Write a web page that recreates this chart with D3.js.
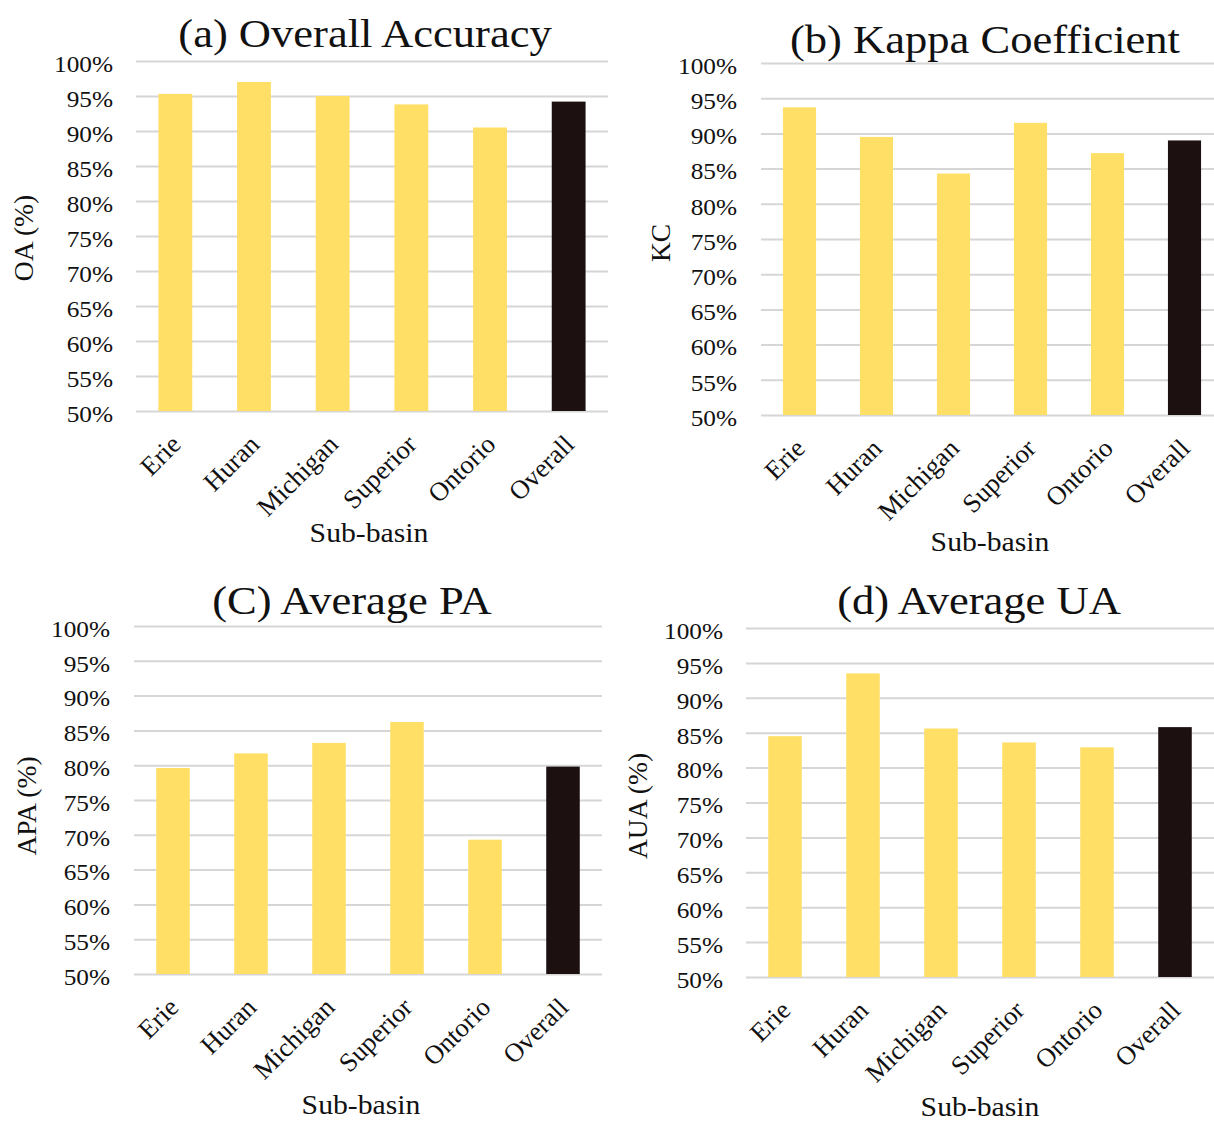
<!DOCTYPE html>
<html>
<head>
<meta charset="utf-8">
<script src="https://cdn.jsdelivr.net/npm/d3@7"></script>
<style>
  body { margin: 0; background: #fff; }
  text { font-family: "Liberation Serif", "Times New Roman", serif; fill: #111; }
</style>
</head>
<body>
<div id="chart-Div"></div>
<script>

// sub-basins and the four accuracy measures (fractions)
const categories = ['Erie', 'Huran', 'Michigan', 'Superior', 'Ontorio', 'Overall'];
const oaValues  = [0.953, 0.970, 0.950, 0.938, 0.905, 0.942];
const kcValues  = [0.937, 0.895, 0.843, 0.915, 0.872, 0.890];
const apaValues = [0.796, 0.817, 0.832, 0.862, 0.693, 0.798];
const auaValues = [0.845, 0.935, 0.856, 0.836, 0.829, 0.858];
const yTicks = [0.50, 0.55, 0.60, 0.65, 0.70, 0.75, 0.80, 0.85, 0.90, 0.95, 1.00];
const panelTitles = ['(a) Overall Accuracy', '(b) Kappa Coefficient', '(C) Average PA', '(d) Average UA'];
const yTitles = ['OA (%)', 'KC', 'APA (%)', 'AUA (%)'];
const xTitle = 'Sub-basin';

let width = 1214, height = 1124;
let svg = d3.select('#chart-Div')
    .append('svg')
    .attr('width', width)
    .attr('height', height);

// where each panel sits on the page
let panels = [
    {values: oaValues,  x0: 136, x1: 608,  yTop: 61,  yBot: 411, tickRight: 113, titleX: 365, titleY: 47,  yLabX: 33,  yLabY: 238, subX: 369, subY: 542},
    {values: kcValues,  x0: 761, x1: 1223, yTop: 63,  yBot: 415, tickRight: 737, titleX: 985, titleY: 53,  yLabX: 670, yLabY: 243, subX: 990, subY: 551},
    {values: apaValues, x0: 134, x1: 602,  yTop: 626, yBot: 974, tickRight: 110, titleX: 352, titleY: 614, yLabX: 36,  yLabY: 806, subX: 361, subY: 1114},
    {values: auaValues, x0: 746, x1: 1214, yTop: 628, yBot: 977, tickRight: 723, titleX: 979, titleY: 614, yLabX: 647, yLabY: 806, subX: 980, subY: 1116}
];

const stretch = 1.1;

panels.forEach((p, i) => drawPanel(p, i));

function drawPanel(p, i) {
    let g = svg.append('g');

    let xScale = d3.scaleBand()
        .domain(categories)
        .range([p.x0, p.x1])
        .paddingInner(0.57)
        .paddingOuter(0.285);
    let yScale = d3.scaleLinear()
        .domain([0.5, 1.0])
        .range([p.yBot, p.yTop]);

    // gridlines
    let grid = g.append('g')
        .attr('transform', `translate(${p.x0},0)`)
        .call(d3.axisLeft(yScale).tickValues(yTicks).tickSize(-(p.x1 - p.x0)).tickFormat(''));
    grid.select('.domain').remove();
    grid.selectAll('line')
        .attr('stroke', '#d6d6d6')
        .attr('stroke-width', 2);

    // tick labels
    let yAxis = g.append('g')
        .attr('transform', `translate(${p.tickRight},0)`)
        .call(d3.axisLeft(yScale).tickValues(yTicks).tickSize(0).tickPadding(0).tickFormat(d3.format('.0%')));
    yAxis.select('.domain').remove();
    yAxis.selectAll('text')
        .attr('x', 0)
        .attr('dy', '0.45em')
        .attr('transform', `scale(${stretch},1)`)
        .style('font-size', '23px')
        .style('font-family', '"Liberation Serif", serif')
        .attr('fill', '#111');

    // bars
    g.selectAll('rect')
        .data(p.values)
        .enter()
        .append('rect')
        .attr('x', (d, j) => xScale(categories[j]))
        .attr('width', xScale.bandwidth())
        .attr('y', d => yScale(d))
        .attr('height', d => yScale(0.5) - yScale(d))
        .attr('fill', (d, j) => categories[j] === 'Overall' ? '#1d1011' : '#ffdf66');

    // rotated category labels
    g.selectAll('.xlab')
        .data(categories)
        .enter()
        .append('text')
        .attr('class', 'xlab')
        .attr('transform', d => `translate(${xScale(d) + xScale.bandwidth() / 2 + 7},${p.yBot + 35}) rotate(-45)`)
        .attr('text-anchor', 'end')
        .style('font-size', '26.5px')
        .text(d => d);

    // panel title
    g.append('text')
        .attr('transform', `translate(${p.titleX},${p.titleY}) scale(${stretch},1)`)
        .attr('text-anchor', 'middle')
        .style('font-size', '40.5px')
        .text(panelTitles[i]);

    // y axis title
    g.append('text')
        .attr('transform', `translate(${p.yLabX},${p.yLabY}) rotate(-90)`)
        .attr('text-anchor', 'middle')
        .style('font-size', '27.5px')
        .text(yTitles[i]);

    // x axis title
    g.append('text')
        .attr('transform', `translate(${p.subX},${p.subY}) scale(${stretch},1)`)
        .attr('text-anchor', 'middle')
        .style('font-size', '27px')
        .text(xTitle);
}

</script>
</body>
</html>
